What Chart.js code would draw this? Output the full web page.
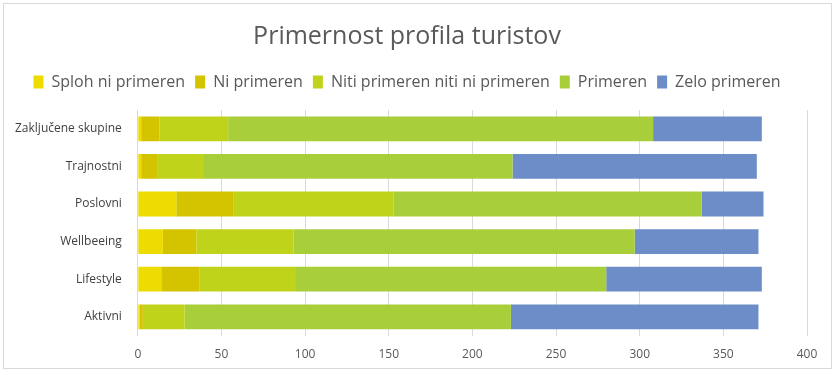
<!DOCTYPE html>
<html>
<head>
<meta charset="utf-8">
<script src="https://cdn.jsdelivr.net/npm/chart.js@4.4.1/dist/chart.umd.min.js"></script>
<style>
  html, body { margin: 0; padding: 0; background: #fff; }
  #wrap {
    position: absolute; left: 3px; top: 3px;
    width: 829px; height: 366px;
    border: 1px solid #d9d9d9; box-sizing: border-box;
  }
</style>
</head>
<body>
<div id="wrap"><canvas id="chart"></canvas></div>
<script>
const categories = ['Zaključene skupine', 'Trajnostni', 'Poslovni', 'Wellbeeing', 'Lifestyle', 'Aktivni'];

const splohNiPrimeren = [2, 2, 23, 15, 14, 1];
const niPrimeren = [11, 10, 34, 20, 23, 2];
const nitiNiti = [41, 27, 96, 58, 57, 25];
const primeren = [254, 185, 184, 204, 186, 195];
const zeloPrimeren = [65, 146, 37, 74, 93, 148];

const seriesNames = ['Sploh ni primeren', 'Ni primeren', 'Niti primeren niti ni primeren', 'Primeren', 'Zelo primeren'];
const seriesColors = ['#EEDC00', '#D4C400', '#C0D31B', '#A8CE3A', '#6C8DC8'];

const xTicks = [0, 50, 100, 150, 200, 250, 300, 350, 400];

const allSeries = [splohNiPrimeren, niPrimeren, nitiNiti, primeren, zeloPrimeren];

// extra room under the legend, like the original
const legendMargin = {
  id: 'legendMargin',
  beforeInit(chart) {
    const fit = chart.legend.fit;
    chart.legend.fit = function () {
      fit.bind(chart.legend)();
      this.height += 10;
    };
  },
};

new Chart(document.getElementById('chart'), {
  type: 'bar',
  data: {
    labels: categories,
    datasets: allSeries.map((vals, i) => ({
      label: seriesNames[i],
      data: vals,
      backgroundColor: seriesColors[i],
      borderWidth: 0,
      categoryPercentage: 1,
      barPercentage: 0.66,
    })),
  },
  options: {
    indexAxis: 'y',
    responsive: true,
    maintainAspectRatio: false,
    animation: false,
    layout: { padding: { left: 3, right: 24, top: 10, bottom: -6 } },
    plugins: {
      title: {
        display: true,
        text: 'Primernost profila turistov',
        color: '#595959',
        font: { family: 'Open Sans', size: 25, weight: 'normal' },
        padding: { top: 8, bottom: 12 },
      },
      legend: {
        position: 'top',
        labels: {
          color: '#595959',
          font: { family: 'Open Sans', size: 16 },
          boxWidth: 10,
          boxHeight: 13,
          padding: 10,
        },
      },
      tooltip: { enabled: false },
    },
    scales: {
      x: {
        stacked: true,
        min: 0,
        max: 400,
        afterBuildTicks: (axis) => { axis.ticks = xTicks.map(v => ({ value: v })); },
        grid: { color: '#d9d9d9', drawTicks: false },
        border: { display: false },
        ticks: { color: '#595959', font: { family: 'Open Sans', size: 12 }, padding: 12 },
      },
      y: {
        stacked: true,
        grid: { display: false },
        border: { display: false },
        ticks: { color: '#404040', font: { family: 'Open Sans', size: 12 }, padding: 8 },
      },
    },
  },
  plugins: [legendMargin],
});
</script>
</body>
</html>
